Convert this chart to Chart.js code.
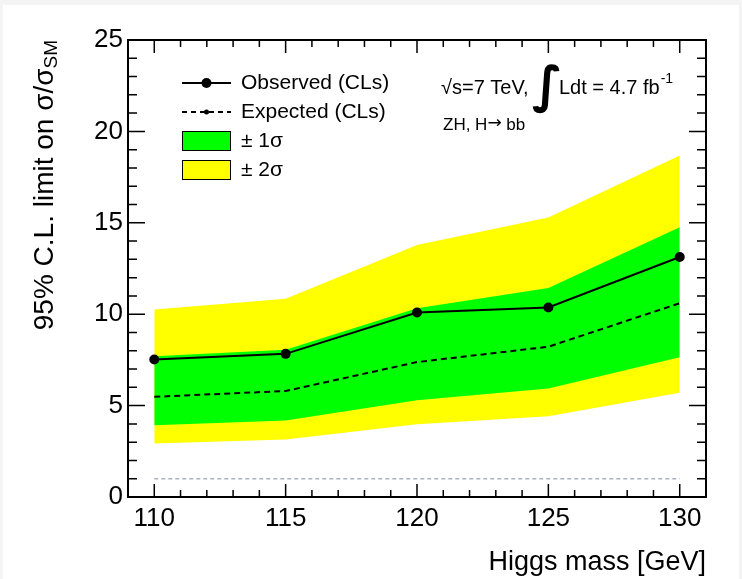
<!DOCTYPE html>
<html lang="en">
<head>
    <meta charset="UTF-8">
    <title>ZH, H→bb 95% CL limit</title>
    <script src="https://cdn.jsdelivr.net/npm/chart.js"></script>
    <style>
        body {
            margin: 0;
            background-color: #f4f4f4;
        }
        canvas {
            display: block;
        }
    </style>
</head>
<body>

<canvas id="limitChart" width="742" height="579"></canvas>

<script>
    // Higgs mass points [GeV]
    const masses = [110, 115, 120, 125, 130];
    // limits on sigma/sigma_SM
    const observed = [7.52, 7.83, 10.09, 10.37, 13.13];
    const expected = [5.48, 5.80, 7.38, 8.22, 10.60];
    const minus2 = [2.92, 3.15, 3.98, 4.42, 5.70];
    const minus1 = [3.92, 4.18, 5.29, 5.93, 7.64];
    const plus1 = [7.70, 8.05, 10.32, 11.43, 14.76];
    const plus2 = [10.26, 10.84, 13.78, 15.29, 18.68];
    const smLevel = [1, 1];

    // axis ticks
    const xTicks = [110, 115, 120, 125, 130];
    const yTicks = [0, 5, 10, 15, 20, 25];

    const FONT = "'Liberation Sans', Arial, Helvetica, sans-serif";
    const toXY = ys => masses.map((m, i) => ({ x: m, y: ys[i] }));

    // background: light grey rim round a white page
    const pagePlugin = {
        id: 'page',
        beforeDraw(chart) {
            const c = chart.ctx;
            c.save();
            c.fillStyle = '#f4f4f4';
            c.fillRect(0, 0, chart.width, chart.height);
            c.fillStyle = '#ffffff';
            c.fillRect(3, 5, chart.width - 6, chart.height - 5);
            c.restore();
        }
    };

    // ROOT-style frame with inward ticks, y title, legend and labels
    const rootStylePlugin = {
        id: 'rootStyle',
        afterDraw(chart) {
            const c = chart.ctx;
            const a = chart.chartArea;
            const xs = chart.scales.x;
            const ys = chart.scales.y;
            c.save();

            // ticks
            c.strokeStyle = '#000';
            c.lineWidth = 1.5;
            c.beginPath();
            for (let v = Math.ceil(xs.min); v <= xs.max; v++) {
                const px = xs.getPixelForValue(v);
                const len = v % 5 === 0 ? 13 : 7;
                c.moveTo(px, a.bottom); c.lineTo(px, a.bottom - len);
                c.moveTo(px, a.top); c.lineTo(px, a.top + len);
            }
            for (let v = ys.min; v <= ys.max; v++) {
                const py = ys.getPixelForValue(v);
                const len = v % 5 === 0 ? 17 : 9;
                c.moveTo(a.left, py); c.lineTo(a.left + len, py);
                c.moveTo(a.right, py); c.lineTo(a.right - len, py);
            }
            c.stroke();

            // frame
            c.lineWidth = 2;
            c.strokeRect(a.left, a.top, a.right - a.left, a.bottom - a.top);

            // y axis title with subscript
            c.fillStyle = '#000';
            const main = '95% C.L. limit on \u03C3/\u03C3';
            c.font = '28px ' + FONT;
            const wMain = c.measureText(main).width;
            c.font = '19px ' + FONT;
            const wSub = c.measureText('SM').width;
            c.translate(45, a.top + wMain + wSub);
            c.rotate(-Math.PI / 2);
            c.textBaseline = 'middle';
            c.textAlign = 'left';
            c.font = '28px ' + FONT;
            c.fillText(main, 0, 0);
            c.font = '19px ' + FONT;
            c.fillText('SM', wMain, 7);
            c.setTransform(1, 0, 0, 1, 0, 0);

            // legend
            const ds = chart.data.datasets;
            const lx0 = 182, lx1 = 231, tx = 241;
            c.font = '21px ' + FONT;
            c.textBaseline = 'middle';
            c.textAlign = 'left';

            let y = 83;
            c.lineWidth = 2;
            c.setLineDash([]);
            c.beginPath(); c.moveTo(lx0, y); c.lineTo(lx1, y); c.stroke();
            c.beginPath(); c.arc((lx0 + lx1) / 2, y, 5, 0, Math.PI * 2); c.fill();
            c.fillText(ds[0].label, tx, y);

            y = 112;
            c.setLineDash([5, 4]);
            c.beginPath(); c.moveTo(lx0, y); c.lineTo(lx1, y); c.stroke();
            c.setLineDash([]);
            c.beginPath(); c.arc((lx0 + lx1) / 2, y, 2.5, 0, Math.PI * 2); c.fill();
            c.fillText(ds[1].label, tx, y);

            [[2, 141], [4, 170]].forEach(([k, yy]) => {
                c.fillStyle = ds[k].backgroundColor;
                c.fillRect(lx0, yy - 10, lx1 - lx0, 20);
                c.lineWidth = 1;
                c.strokeStyle = '#000';
                c.strokeRect(lx0 + 0.5, yy - 9.5, lx1 - lx0 - 1, 19);
                c.fillStyle = '#000';
                c.fillText(ds[k].label, tx, yy);
            });

            // energy / luminosity label
            c.font = '20px ' + FONT;
            c.fillText('\u221As=7 TeV,', 441, 88);
            c.font = "bold 50px 'DejaVu Sans', sans-serif";
            c.fillText('\u222B', 532, 89);
            c.font = '20px ' + FONT;
            c.fillText('Ldt = 4.7 fb', 559, 88);
            const wfb = c.measureText('Ldt = 4.7 fb').width;
            c.font = '14px ' + FONT;
            c.fillText('-1', 559 + wfb + 1, 79);

            c.font = '17px ' + FONT;
            c.fillText('ZH, H', 443, 125);
            let zx = 443 + c.measureText('ZH, H').width;
            c.font = "17px 'DejaVu Sans', sans-serif";
            c.fillText('\u2192', zx, 124);
            zx += c.measureText('\u2192').width;
            c.font = '17px ' + FONT;
            c.fillText(' bb', zx, 125);

            c.restore();
        }
    };

    const ctx = document.getElementById('limitChart').getContext('2d');
    const limitChart = new Chart(ctx, {
        type: 'line',
        data: {
            datasets: [
                {
                    label: 'Observed (CLs)',
                    data: toXY(observed),
                    borderColor: '#000',
                    backgroundColor: '#000',
                    borderWidth: 2,
                    pointRadius: 5,
                    pointBackgroundColor: '#000',
                    pointBorderWidth: 0,
                    fill: false,
                    order: 1
                },
                {
                    label: 'Expected (CLs)',
                    data: toXY(expected),
                    borderColor: '#000',
                    borderWidth: 2,
                    borderDash: [6, 4],
                    pointRadius: 0,
                    fill: false,
                    order: 2
                },
                {
                    label: '\u00B1 1\u03C3',
                    data: toXY(plus1),
                    borderWidth: 0,
                    borderColor: 'rgba(0,0,0,0)',
                    backgroundColor: '#00ff00',
                    pointRadius: 0,
                    fill: { target: 3 },
                    order: 4
                },
                {
                    label: 'minus1',
                    data: toXY(minus1),
                    borderWidth: 0,
                    borderColor: 'rgba(0,0,0,0)',
                    pointRadius: 0,
                    fill: false,
                    order: 4
                },
                {
                    label: '\u00B1 2\u03C3',
                    data: toXY(plus2),
                    borderWidth: 0,
                    borderColor: 'rgba(0,0,0,0)',
                    backgroundColor: '#ffff00',
                    pointRadius: 0,
                    fill: { target: 5 },
                    order: 5
                },
                {
                    label: 'minus2',
                    data: toXY(minus2),
                    borderWidth: 0,
                    borderColor: 'rgba(0,0,0,0)',
                    pointRadius: 0,
                    fill: false,
                    order: 5
                },
                {
                    label: 'SM',
                    data: [
                        { x: masses[0], y: smLevel[0] },
                        { x: masses[masses.length - 1], y: smLevel[1] }
                    ],
                    borderColor: '#a9b3bf',
                    borderWidth: 1.5,
                    borderDash: [4, 3],
                    pointRadius: 0,
                    fill: false,
                    order: 3
                }
            ]
        },
        options: {
            responsive: false,
            animation: false,
            layout: {
                padding: { top: 40, right: 36, left: 0, bottom: 0 }
            },
            elements: {
                line: { tension: 0 }
            },
            scales: {
                x: {
                    type: 'linear',
                    min: 109,
                    max: 131,
                    afterFit(scale) { scale.height = 82; },
                    afterBuildTicks(scale) {
                        scale.ticks = xTicks.map(v => ({ value: v }));
                    },
                    grid: { display: false, tickLength: 0 },
                    border: { display: false },
                    ticks: {
                        color: '#000',
                        padding: 6,
                        maxRotation: 0,
                        font: { family: FONT, size: 26 }
                    },
                    title: {
                        display: true,
                        text: 'Higgs mass [GeV]',
                        align: 'end',
                        color: '#000',
                        padding: { top: 0, bottom: 0 },
                        font: { family: FONT, size: 27 }
                    }
                },
                y: {
                    min: 0,
                    max: 25,
                    afterFit(scale) { scale.width = 128; },
                    afterBuildTicks(scale) {
                        scale.ticks = yTicks.map(v => ({ value: v }));
                    },
                    grid: { display: false, tickLength: 0 },
                    border: { display: false },
                    ticks: {
                        color: '#000',
                        padding: 5,
                        font: { family: FONT, size: 26 }
                    }
                }
            },
            plugins: {
                legend: { display: false },
                tooltip: { enabled: false }
            }
        },
        plugins: [pagePlugin, rootStylePlugin]
    });
</script>

</body>
</html>
